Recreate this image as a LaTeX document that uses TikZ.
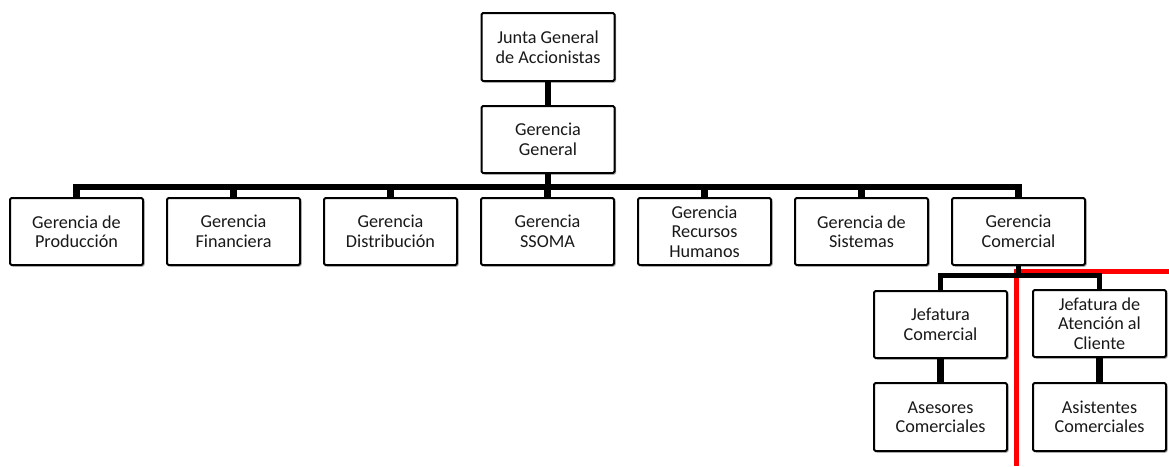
\documentclass[tikz,border=0pt]{standalone}
\usepackage{fontspec}
\setmainfont{Carlito}
\usetikzlibrary{shadows}
\begin{document}
\begin{tikzpicture}[x=1pt,y=-1pt,
  box/.style={draw=black, line width=2pt, fill=white, rounded corners=1.5pt,
    minimum width=133pt, minimum height=67pt, inner sep=0pt, align=center,
    font=\fontsize{18.2}{19.5}\selectfont, text=black!90,
    drop shadow={shadow xshift=1.5pt, shadow yshift=-1.5pt, opacity=0.35, fill=black}},
  conn/.style={draw=black, line width=6.5pt},
  subconn/.style={draw=black, line width=5pt},
  redline/.style={draw=red, line width=5pt}]
\useasboundingbox (0,0) rectangle (1169,466);
% red marks (behind)
\coordinate (r0) at (1016,271.5);
\coordinate (r1) at (1169,271.5);
\coordinate (r2) at (1016,466);
\draw[redline] (r1) -- (r0) -- (r2);
% nodes
\node[box, minimum height=68pt] (junta) at (548,47) {Junta General\\de Accionistas};
\node[box] (gg) at (548,139.5) {Gerencia\\General};
\node[box] (gp) at (76.5,231.5) {Gerencia de\\Producción};
\node[box] (gf) at (233.5,231.5) {Gerencia\\Financiera};
\node[box] (gd) at (390.5,231.5) {Gerencia\\Distribución};
\node[box] (gs) at (547.5,231.5) {Gerencia\\SSOMA};
\node[box] (gr) at (704.5,231.5) {Gerencia\\Recursos\\Humanos};
\node[box] (gsi) at (861.5,231.5) {Gerencia de\\Sistemas};
\node[box] (gc) at (1018.5,231.5) {Gerencia\\Comercial};
\node[box] (jc) at (940.5,324.5) {Jefatura\\Comercial};
\node[box] (ja) at (1099.5,323.5) {Jefatura de\\Atención al\\Cliente};
\node[box, minimum height=68pt] (as) at (940.5,417) {Asesores\\Comerciales};
\node[box, minimum height=68pt] (ast) at (1099.5,417) {Asistentes\\Comerciales};
% connectors
\coordinate (bus) at (0,187);
\coordinate (sbus) at (0,275.5);
\draw[conn] (junta.south) -- (gg.north);
\draw[conn] (gg.south) -- (gg.south |- bus);
\draw[conn] (gp.north) -- (gp.north |- bus) -- (gc.north |- bus) -- (gc.north);
\foreach \n in {gf,gd,gs,gr,gsi} \draw[conn] (\n.north) -- (\n.north |- bus);
\draw[subconn] (gc.south) -- (gc.south |- sbus);
\draw[subconn] (jc.north) -- (jc.north |- sbus) -- (ja.north |- sbus) -- (ja.north);
\draw[conn] (jc.south) -- (as.north);
\draw[conn] (ja.south) -- (ast.north);
\end{tikzpicture}
\end{document}
